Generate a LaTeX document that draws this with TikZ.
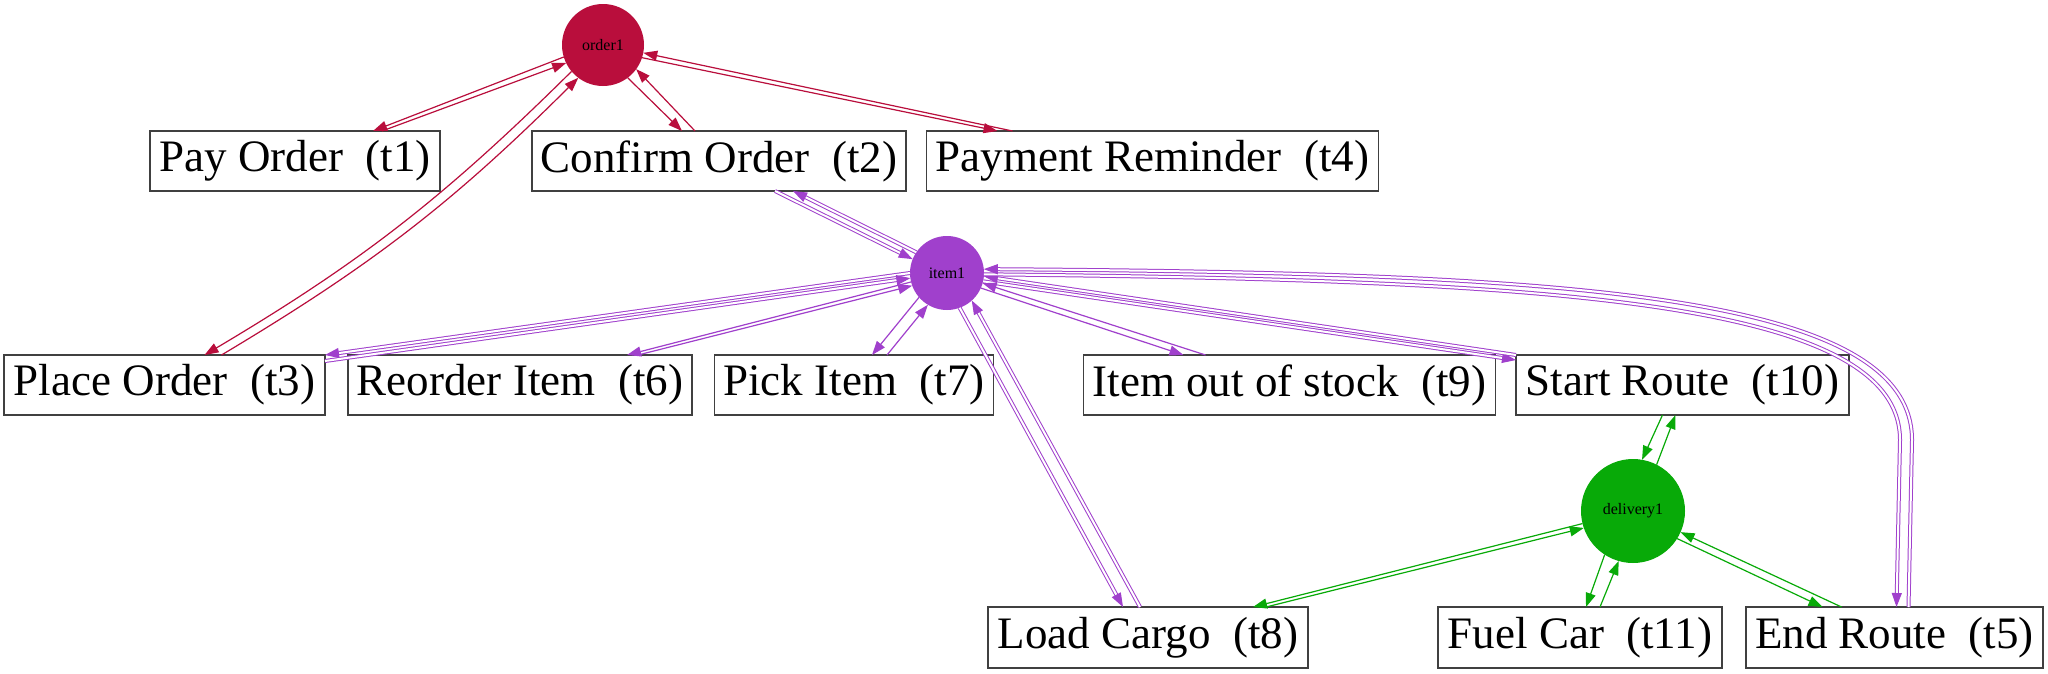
\documentclass[tikz,border=0pt]{standalone}
\usepackage{fontspec}
\setmainfont{Liberation Serif}
\usetikzlibrary{arrows.meta,calc}
\definecolor{oc}{HTML}{B90E3C}
\definecolor{ic}{HTML}{A040CC}
\definecolor{dc}{HTML}{08AA08}
\begin{document}
\begin{tikzpicture}[x=1pt,y=-1pt,
  trans/.style={draw=black!75,line width=1.5pt,fill=white,inner xsep=9pt,inner ysep=0pt,outer sep=0pt,minimum height=60pt,font=\fontsize{45}{54}\selectfont},
  place/.style={circle,inner sep=0pt,outer sep=0pt,font=\fontsize{16}{19}\selectfont},
  arc/.style={line width=1.2pt,-{Triangle[length=14pt,width=10pt]}},
  varc/.style={line width=1pt,double=white,double distance=2pt,-{Triangle[length=14pt,width=10pt]}}]
\fill[white] (0,0) rectangle (2048,673);
\useasboundingbox (0,0) rectangle (2048,673);

% places
\node[place,fill=oc,minimum size=82pt] (order1) at (603,45) {order1};
\node[place,fill=ic,minimum size=74pt] (item1) at (947,273) {item1};
\node[place,fill=dc,minimum size=104pt] (delivery1) at (1633,511) {delivery1};

% transitions
\node[trans,minimum width=290pt] (t1) at (295,161) {Pay Order~~(t1)};
\node[trans,minimum width=374pt] (t2) at (719,161) {Confirm Order~~(t2)};
\node[trans,minimum width=451pt] (t4) at (1152.5,161) {Payment Reminder~~(t4)};
\node[trans,minimum width=321pt] (t3) at (164.5,385) {Place Order~~(t3)};
\node[trans,minimum width=344pt] (t6) at (520,385) {Reorder Item~~(t6)};
\node[trans,minimum width=278pt] (t7) at (854,385) {Pick Item~~(t7)};
\node[trans,minimum width=407pt] (t9) at (1289.5,385) {Item out of stock~~(t9)};
\node[trans,minimum width=333pt] (t10) at (1682.5,385) {Start Route~~(t10)};
\node[trans,minimum width=320pt,minimum height=61pt] (t8) at (1148,637.5) {Load Cargo~~(t8)};
\node[trans,minimum width=284pt,minimum height=61pt] (t11) at (1580,637.5) {Fuel Car~~(t11)};
\node[trans,minimum width=297pt,minimum height=61pt] (t5) at (1894.5,637.5) {End Route~~(t5)};

% order arcs
\draw[arc,oc] (order1.197) -- ($(t1.north)+(78,0)$);
\draw[arc,oc] ($(t1.north)+(87,0)$) -- (order1.206);
\draw[arc,oc] (order1.307) -- ($(t2.north)+(-37,0)$);
\draw[arc,oc] ($(t2.north)+(-24,0)$) -- (order1.324);
\draw[arc,oc] (order1.220) to[bend left=7] ($(t3.north)+(40,0)$);
\draw[arc,oc] ($(t3.north)+(57,0)$) to[bend right=7] (order1.233);
\draw[arc,oc] (order1.342) -- ($(t4.north)+(-155,0)$);
\draw[arc,oc] ($(t4.north)+(-140,0)$) -- (order1.349);

% item arcs (variable)
\draw[varc,ic] ($(t2.south)+(56,0)$) -- (item1.158);
\draw[varc,ic] (item1.146) -- ($(t2.south)+(74,0)$);
\draw[varc,ic] (item1.180) -- (t3.north east);
\draw[varc,ic] ($(t3.north east)+(0,6)$) -- (item1.188);
\draw[varc,ic] (item1.290) -- ($(t8.north)+(-25,0)$);
\draw[varc,ic] ($(t8.north)+(-8,0)$) -- (item1.312);
\draw[varc,ic] (item1.347) -- ($(t10.north west)+(0,5)$);
\draw[varc,ic] (t10.north west) -- (item1.355);
\draw[varc,ic] (item1.358) .. controls (1550,280) and (1900,300) .. (1900,440) -- ($(t5.north)+(2,0)$);
\draw[varc,ic] ($(t5.north)+(14,0)$) -- (1912,440) .. controls (1912,292) and (1560,273) .. (item1.6);

% item arcs (single)
\draw[arc,ic] (item1.194) -- ($(t6.north)+(107,0)$);
\draw[arc,ic] ($(t6.north)+(118,0)$) -- (item1.200);
\draw[arc,ic] (item1.221) -- ($(t7.north)+(18,0)$);
\draw[arc,ic] ($(t7.north)+(33,0)$) -- (item1.239);
\draw[arc,ic] (item1.336) -- ($(t9.north)+(-106,0)$);
\draw[arc,ic] ($(t9.north)+(-84,0)$) -- (item1.344);

% delivery arcs
\draw[arc,dc] ($(t10.south)+(-20,0)$) -- (delivery1.80);
\draw[arc,dc] (delivery1.63) -- ($(t10.south)+(-7,0)$);
\draw[arc,dc] (delivery1.237) -- ($(t11.north)+(6,0)$);
\draw[arc,dc] ($(t11.north)+(20,0)$) -- (delivery1.254);
\draw[arc,dc] (delivery1.194) -- ($(t8.north)+(105,0)$);
\draw[arc,dc] ($(t8.north)+(118,0)$) -- (delivery1.199);
\draw[arc,dc] (delivery1.328) -- ($(t5.north)+(-72,0)$);
\draw[arc,dc] ($(t5.north)+(-53,0)$) -- (delivery1.336);
\end{tikzpicture}
\end{document}
